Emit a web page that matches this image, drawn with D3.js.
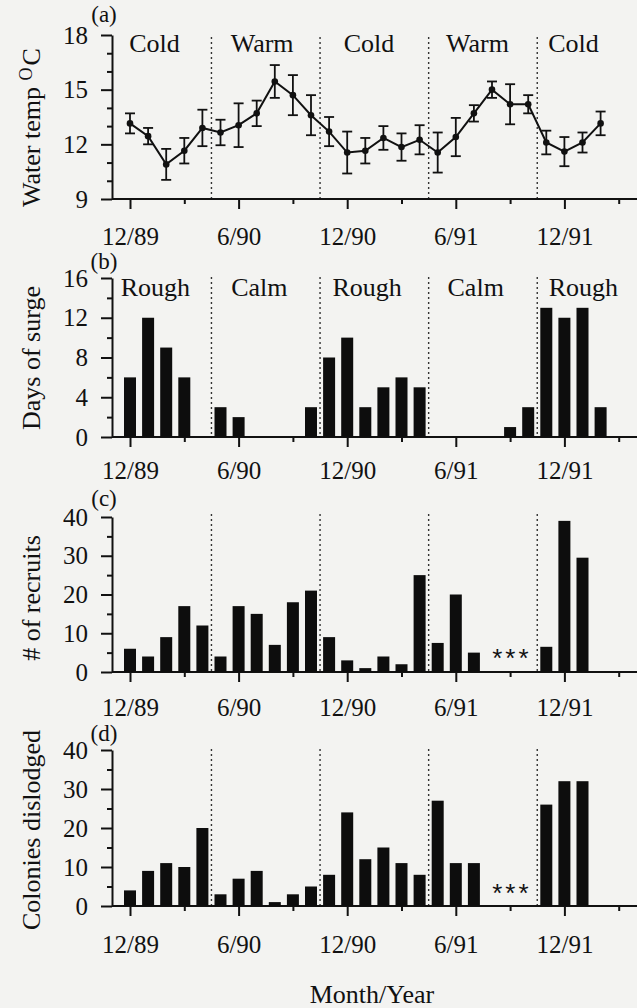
<!DOCTYPE html>
<html lang="en">
<head>
  <meta charset="utf-8">
  <script src="https://d3js.org/d3.v7.min.js"></script>
  <style>
    body { margin: 0; background: #f3f3f1; }
    text { font-family: "Liberation Serif", "Times New Roman", serif; fill: #111; }
  </style>
</head>
<body>
  <div id="my_dataviz"></div>
  <script>

    // month index: 0 = 12/89, 6 = 6/90, 12 = 12/90 ...
    const tickMonths = [0, 6, 12, 18, 24];
    const tickLabels = ["12/89", "6/90", "12/90", "6/91", "12/91"];
    const minorMonths = [3, 9, 15, 21, 27];
    const seasonBreaks = [4.5, 10.5, 16.5, 22.5];

    const tempSeasons = ["Cold", "Warm", "Cold", "Warm", "Cold"];
    const surgeSeasons = ["Rough", "Calm", "Rough", "Calm", "Rough"];

    // (a) water temperature, mean and error
    const tempMonths = [0, 1, 2, 3, 4, 5, 6, 7, 8, 9, 10, 11, 12, 13, 14, 15, 16, 17, 18, 19, 20, 21, 22, 23, 24, 25, 26];
    const tempMean = [13.15, 12.45, 10.9, 11.65, 12.9, 12.65, 13.05, 13.7, 15.45, 14.7, 13.6, 12.7, 11.55, 11.65, 12.35, 11.85, 12.25, 11.55, 12.4, 13.7, 15.0, 14.2, 14.2, 12.1, 11.6, 12.1, 13.15];
    const tempErr = [0.55, 0.45, 0.85, 0.7, 1.0, 0.7, 1.2, 0.7, 0.9, 1.1, 1.1, 0.8, 1.15, 0.7, 0.65, 0.75, 0.8, 1.1, 1.05, 0.45, 0.45, 1.1, 0.5, 0.65, 0.8, 0.55, 0.65];

    // (b) days of surge
    const surgeMonths = [0, 1, 2, 3, 5, 6, 10, 11, 12, 13, 14, 15, 16, 21, 22, 23, 24, 25, 26];
    const surgeDays = [6, 12, 9, 6, 3, 2, 3, 8, 10, 3, 5, 6, 5, 1, 3, 13, 12, 13, 3];

    // (c) recruits and (d) colonies dislodged (no data 7/91 - 9/91)
    const countMonths = [0, 1, 2, 3, 4, 5, 6, 7, 8, 9, 10, 11, 12, 13, 14, 15, 16, 17, 18, 19, 23, 24, 25];
    const recruits = [6, 4, 9, 17, 12, 4, 17, 15, 7, 18, 21, 9, 3, 1, 4, 2, 25, 7.5, 20, 5, 6.5, 39, 29.5];
    const dislodged = [4, 9, 11, 10, 20, 3, 7, 9, 1, 3, 5, 8, 24, 12, 15, 11, 8, 27, 11, 11, 26, 32, 32];
    const missingMonth = 21.1;

    const width = 637, height = 1008;
    const axisX = 112, axisEnd = 637;
    const barWidth = 12;

    const svg = d3.select("#my_dataviz")
      .append("svg")
        .attr("width", width)
        .attr("height", height);

    const x = d3.scaleLinear()
      .domain([0, 26])
      .range([130, 600.6]);

    const yA = d3.scaleLinear().domain([9, 18]).range([199, 35]);
    const yB = d3.scaleLinear().domain([0, 16]).range([437, 278]);
    const yC = d3.scaleLinear().domain([0, 40]).range([672, 517]);
    const yD = d3.scaleLinear().domain([0, 40]).range([906, 750]);

    // axes, ticks, dotted season lines and panel letter
    function frame(y, major, minor, letter, letterY, labelOffset, breakTop) {
      const base = y.range()[0];

      // season separators
      svg.append("g")
        .selectAll("line")
        .data(seasonBreaks)
        .join("line")
          .attr("x1", d => x(d))
          .attr("x2", d => x(d))
          .attr("y1", breakTop)
          .attr("y2", base)
          .attr("stroke", "#333")
          .attr("stroke-width", 1.4)
          .attr("stroke-dasharray", "2,3");

      // y axis
      const ya = svg.append("g")
        .attr("transform", `translate(${axisX},0)`)
        .call(d3.axisLeft(y).tickValues(major).tickSize(11).tickSizeOuter(0).tickPadding(13));
      ya.selectAll("path, line").attr("stroke", "#111").attr("stroke-width", 2);
      ya.selectAll("text").style("font-size", "25px").attr("fill", "#111")
        .style("font-family", '"Liberation Serif", serif');

      const ym = svg.append("g")
        .attr("transform", `translate(${axisX},0)`)
        .call(d3.axisLeft(y).tickValues(minor).tickSize(5).tickFormat(""));
      ym.select(".domain").remove();
      ym.selectAll("line").attr("stroke", "#111").attr("stroke-width", 2);

      // x axis
      svg.append("line")
        .attr("x1", axisX).attr("x2", axisEnd)
        .attr("y1", base).attr("y2", base)
        .attr("stroke", "#111")
        .attr("stroke-width", 2);

      const xa = svg.append("g")
        .attr("transform", `translate(0,${base})`)
        .call(d3.axisBottom(x).tickValues(tickMonths).tickSize(10).tickFormat((d, i) => tickLabels[i]));
      xa.select(".domain").remove();
      xa.selectAll("line").attr("stroke", "#111").attr("stroke-width", 2);
      xa.selectAll("text")
        .attr("y", labelOffset)
        .attr("dy", "0")
        .attr("fill", "#111")
        .style("font-size", "25px")
        .style("font-family", '"Liberation Serif", serif');

      const xm = svg.append("g")
        .attr("transform", `translate(0,${base})`)
        .call(d3.axisBottom(x).tickValues(minorMonths).tickSize(5).tickFormat(""));
      xm.select(".domain").remove();
      xm.selectAll("line").attr("stroke", "#111").attr("stroke-width", 2);

      svg.append("text")
        .attr("x", 104)
        .attr("y", letterY)
        .attr("text-anchor", "middle")
        .style("font-size", "23px")
        .text(letter);
    }

    function yTitle(label, cx, cy) {
      svg.append("text")
        .attr("transform", `translate(${cx},${cy}) rotate(-90)`)
        .attr("text-anchor", "middle")
        .style("font-size", "26px")
        .text(label);
    }

    function seasons(names, pos, baseY) {
      svg.append("g")
        .selectAll("text")
        .data(names)
        .join("text")
          .attr("x", (d, i) => x(pos[i]))
          .attr("y", baseY)
          .attr("text-anchor", "middle")
          .style("font-size", "26px")
          .text(d => d);
    }

    function bars(y, months, values) {
      svg.append("g")
        .selectAll("rect")
        .data(values)
        .join("rect")
          .attr("x", (d, i) => x(months[i]) - barWidth / 2)
          .attr("y", d => y(d))
          .attr("width", barWidth)
          .attr("height", d => y(0) - y(d))
          .attr("fill", "#0d0d0d");
    }

    function missing(y0) {
      svg.append("text")
        .attr("x", x(missingMonth))
        .attr("y", y0)
        .attr("text-anchor", "middle")
        .style("font-family", '"Liberation Sans", sans-serif')
        .style("font-size", "26px")
        .style("letter-spacing", "3px")
        .attr("fill", "#8a8a8a")
        .text("***");
    }

    // ---- (a) water temperature
    frame(yA, [9, 12, 15, 18], [10, 11, 13, 14, 16, 17], "(a)", 22, 46, 37);
    seasons(tempSeasons, [1.35, 7.3, 13.2, 19.2, 24.5], 52);

    const tempData = tempMonths.map((m, i) => ({m: m, v: tempMean[i], e: tempErr[i]}));

    svg.append("path")
      .datum(tempData)
      .attr("fill", "none")
      .attr("stroke", "#111")
      .attr("stroke-width", 2)
      .attr("d", d3.line().x(d => x(d.m)).y(d => yA(d.v)));

    const err = svg.append("g").attr("stroke", "#111").attr("stroke-width", 1.8);
    err.selectAll(".bar")
      .data(tempData)
      .join("line")
        .attr("x1", d => x(d.m)).attr("x2", d => x(d.m))
        .attr("y1", d => yA(d.v - d.e)).attr("y2", d => yA(d.v + d.e));
    err.selectAll(".capTop")
      .data(tempData)
      .join("line")
        .attr("x1", d => x(d.m) - 5).attr("x2", d => x(d.m) + 5)
        .attr("y1", d => yA(d.v + d.e)).attr("y2", d => yA(d.v + d.e));
    err.selectAll(".capBottom")
      .data(tempData)
      .join("line")
        .attr("x1", d => x(d.m) - 5).attr("x2", d => x(d.m) + 5)
        .attr("y1", d => yA(d.v - d.e)).attr("y2", d => yA(d.v - d.e));

    svg.append("g")
      .selectAll("circle")
      .data(tempData)
      .join("circle")
        .attr("cx", d => x(d.m))
        .attr("cy", d => yA(d.v))
        .attr("r", 3.3)
        .attr("fill", "#111");

    const tt = svg.append("text")
      .attr("transform", "translate(40,207) rotate(-90)")
      .style("font-size", "26px");
    tt.append("tspan").text("Water temp ");
    tt.append("tspan").attr("dy", -8).style("font-size", "18px").text("O");
    tt.append("tspan").attr("dy", 8).attr("dx", 2).text("C");

    // ---- (b) days of surge
    frame(yB, [0, 4, 8, 12, 16], [2, 6, 10, 14], "(b)", 269, 42, 277);
    seasons(surgeSeasons, [1.4, 7.15, 13.1, 19.1, 25.05], 296);
    bars(yB, surgeMonths, surgeDays);
    yTitle("Days of surge", 40, 358);

    // ---- (c) recruits
    frame(yC, [0, 10, 20, 30, 40], [5, 15, 25, 35], "(c)", 506, 44, 514);
    bars(yC, countMonths, recruits);
    missing(667);
    yTitle("# of recruits", 40, 598);

    // ---- (d) colonies dislodged
    frame(yD, [0, 10, 20, 30, 40], [5, 15, 25, 35], "(d)", 741, 47, 749);
    bars(yD, countMonths, dislodged);
    missing(902);
    yTitle("Colonies dislodged", 40, 830);

    // shared x label
    svg.append("text")
      .attr("x", 372)
      .attr("y", 1003)
      .attr("text-anchor", "middle")
      .style("font-size", "26px")
      .text("Month/Year");

  </script>
</body>
</html>
